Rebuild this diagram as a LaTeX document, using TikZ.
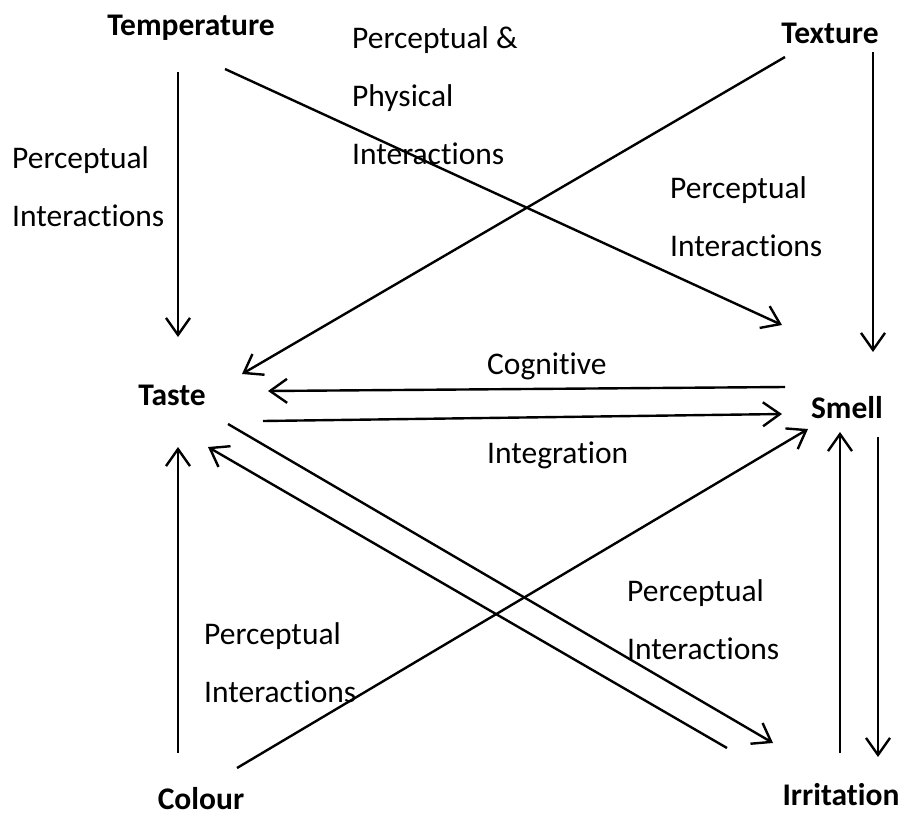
\documentclass[tikz,border=0pt]{standalone}
\usepackage{fontspec}
\setmainfont[Ligatures=NoCommon]{Carlito}
\usetikzlibrary{arrows.meta,positioning}

\tikzset{
  arr/.style={line width=2.4pt,-{Straight Barb[length=17pt,width=24pt,line width=2.4pt]}},
  sense/.style={font=\fontsize{31.5}{58}\selectfont\bfseries},
  link/.style={anchor=base west,align=left}
}

\begin{document}
\begin{tikzpicture}[x=1pt,y=-1pt,every node/.style={inner sep=0pt,font=\fontsize{31.5}{58}\selectfont}]
\useasboundingbox (0,0) rectangle (903,817);
% the six senses
\node[sense,anchor=base] (temp) at (191,35) {Temperature};
\node[sense,anchor=base] (tex) at (830,43) {Texture};
\node[sense,anchor=base] (taste) at (172,405) {Taste};
\node[sense,anchor=base] (smell) at (847,418) {Smell};
\node[sense,anchor=base] (col) at (201,809) {Colour};
\node[sense,anchor=base] (irr) at (841,805) {Irritation};
% labels (anchored at last line)
\node[link] (pp) at (352,164) {Perceptual \&\\Physical\\Interactions};
\node[link] (pleft) at (12,226) {Perceptual\\Interactions};
\node[link] (pright) at (670,256) {Perceptual\\Interactions};
\node[link] (cog) at (487,374) {Cognitive};
\node[link] (integ) at (487,463) {Integration};
\node[link] (plow) at (627,659) {Perceptual\\Interactions};
\node[link] (pcol) at (204,702) {Perceptual\\Interactions};
% arrow ends
\coordinate (temp-s) at (178,72);   \coordinate (taste-n) at (178,337);
\coordinate (temp-se) at (225,69);  \coordinate (smell-nw) at (782,325);
\coordinate (tex-sw) at (785,57);   \coordinate (taste-ne) at (242,374);
\coordinate (tex-s) at (873,52);    \coordinate (smell-n) at (873,352);
\coordinate (smell-w) at (785,387); \coordinate (taste-e) at (268,391);
\coordinate (taste-e2) at (263,421);\coordinate (smell-w2) at (782,414);
\coordinate (col-ne) at (237,768);  \coordinate (smell-sw) at (808,429);
\coordinate (taste-se) at (228,424);\coordinate (irr-nw) at (773,743);
\coordinate (irr-nw2) at (727,748); \coordinate (taste-se2) at (208,447);
\coordinate (irr-n) at (840,753);   \coordinate (smell-s) at (840,432);
\coordinate (smell-s2) at (878,437);\coordinate (irr-n2) at (878,757);
\coordinate (col-n) at (178,753);   \coordinate (taste-s) at (178,447);
% connectors
\draw[arr] (temp-s) -- (taste-n);
\draw[arr] (temp-se) -- (smell-nw);
\draw[arr] (tex-sw) -- (taste-ne);
\draw[arr] (tex-s) -- (smell-n);
\draw[arr] (smell-w) -- (taste-e);
\draw[arr] (taste-e2) -- (smell-w2);
\draw[arr] (col-ne) -- (smell-sw);
\draw[arr] (taste-se) -- (irr-nw);
\draw[arr] (irr-nw2) -- (taste-se2);
\draw[arr] (irr-n) -- (smell-s);
\draw[arr] (smell-s2) -- (irr-n2);
\draw[arr] (col-n) -- (taste-s);
\end{tikzpicture}
\end{document}
